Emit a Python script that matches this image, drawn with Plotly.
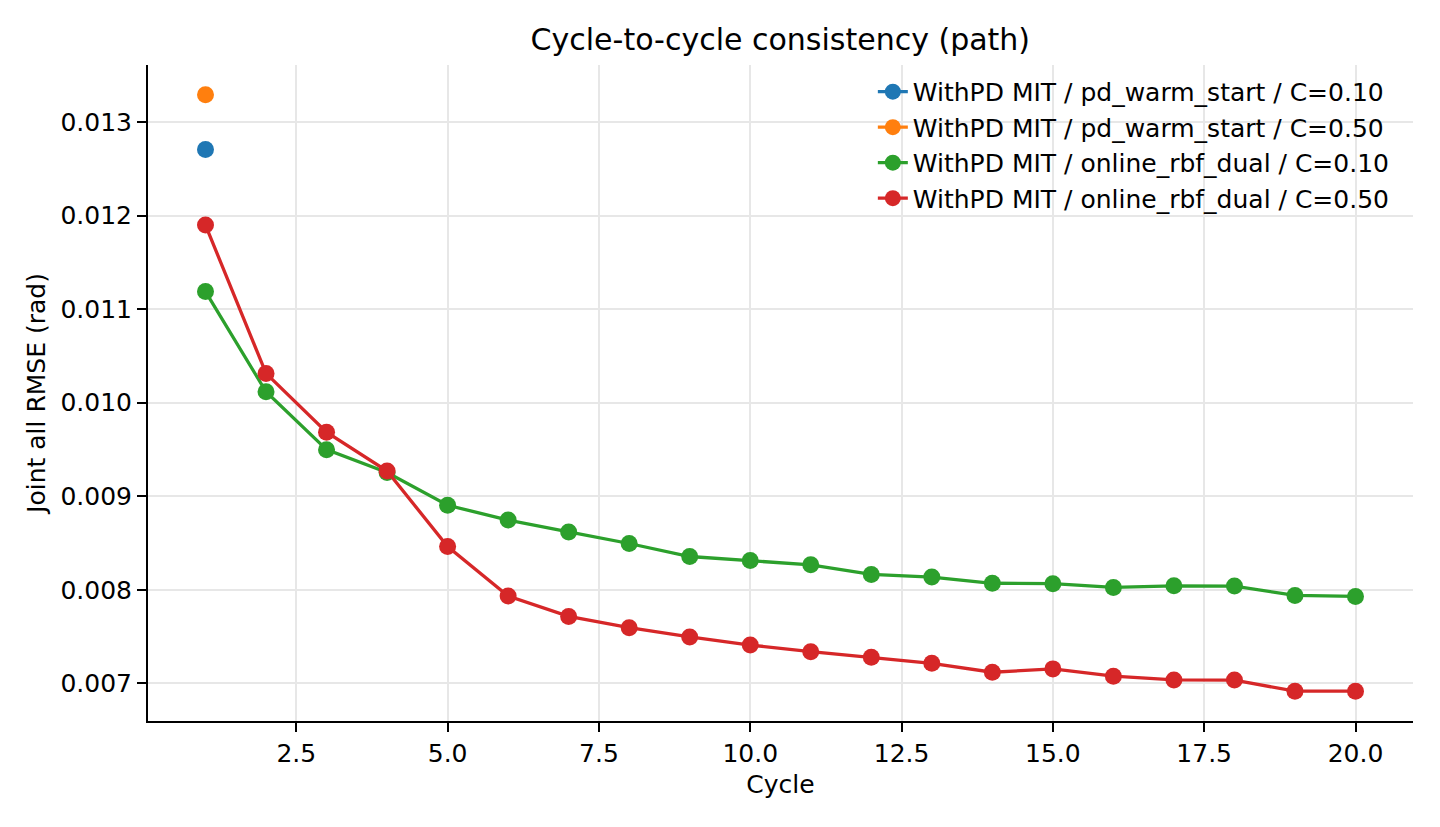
import plotly.graph_objects as go

cycles = list(range(1, 21))

warm_c010_x = [1]
warm_c010_y = [0.012706]
warm_c050_x = [1]
warm_c050_y = [0.01329]

rbf_c010_y = [0.011188, 0.010117, 0.009498, 0.009254, 0.008904, 0.008746, 0.008618,
              0.008495, 0.008356, 0.008313, 0.008267, 0.008164, 0.008136, 0.008070,
              0.008066, 0.008026, 0.008043, 0.008040, 0.007940, 0.007929]
rbf_c050_y = [0.011898, 0.010313, 0.009684, 0.009270, 0.008463, 0.007933, 0.007716,
              0.007595, 0.007496, 0.007410, 0.007339, 0.007279, 0.007215, 0.007119,
              0.007155, 0.007077, 0.007037, 0.007035, 0.006917, 0.006917]

labels = ["WithPD MIT / pd_warm_start / C=0.10",
          "WithPD MIT / pd_warm_start / C=0.50",
          "WithPD MIT / online_rbf_dual / C=0.10",
          "WithPD MIT / online_rbf_dual / C=0.50"]
colors = ["#1f77b4", "#ff7f0e", "#2ca02c", "#d62728"]

series = [(warm_c010_x, warm_c010_y), (warm_c050_x, warm_c050_y),
          (cycles, rbf_c010_y), (cycles, rbf_c050_y)]

FONT = "DejaVu Sans"
fig = go.Figure()
for (xs, ys), lab, col in zip(series, labels, colors):
    fig.add_trace(go.Scatter(x=xs, y=ys, mode="lines+markers", name=lab,
                             line=dict(color=col, width=3.3),
                             marker=dict(color=col, size=17)))

axis_common = dict(showline=True, linecolor="black", linewidth=2,
                   ticks="outside", ticklen=9, tickwidth=2, tickcolor="black",
                   showgrid=True, gridcolor="#e7e7e7", gridwidth=2,
                   zeroline=False, mirror=False,
                   tickfont=dict(family=FONT, size=25, color="black"))

fig.update_layout(
    width=1440, height=827,
    margin=dict(l=148, r=27, t=65, b=106),
    paper_bgcolor="white", plot_bgcolor="white",
    font=dict(family=FONT, size=25, color="black"),
    title=dict(text="Cycle-to-cycle consistency (path)", x=0.5419, xanchor="center",
               y=0.952, yanchor="middle", font=dict(family=FONT, size=30, color="black")),
    xaxis=dict(range=[0.05, 20.95], tick0=0, dtick=2.5, tickformat=".1f",
               title=dict(text="Cycle", font=dict(family=FONT, size=25), standoff=8),
               **axis_common),
    yaxis=dict(range=[0.006598, 0.013609], tick0=0, dtick=0.001, tickformat=".3f",
               title=dict(text="Joint all RMSE (rad)", font=dict(family=FONT, size=25), standoff=8),
               **axis_common),
    legend=dict(x=0.573, xanchor="left", y=0.994, yanchor="top",
                bgcolor="rgba(0,0,0,0)", font=dict(family=FONT, size=25, color="black"),
                tracegroupgap=0),
    showlegend=True,
)

fig.write_html("out.html")
